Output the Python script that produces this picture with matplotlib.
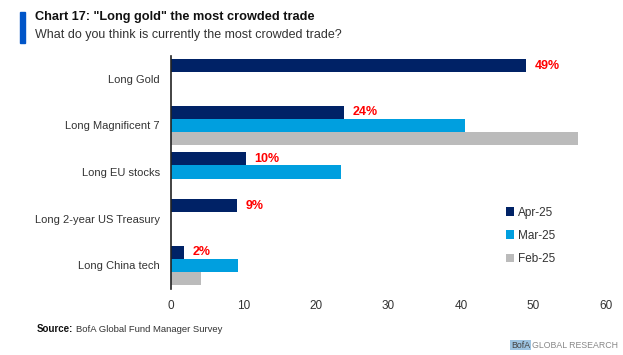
import numpy as np
import matplotlib
matplotlib.use("Agg")
import matplotlib.pyplot as plt
from matplotlib.patches import Rectangle

plt.rcParams['font.family'] = ['Liberation Sans', 'DejaVu Sans']

# data (% of fund managers)
trades = ['Long Gold', 'Long Magnificent 7', 'Long EU stocks',
          'Long 2-year US Treasury', 'Long China tech']
apr25 = [49, 23.9, 10.3, 9.1, 1.8]
mar25 = [0, 40.5, 23.4, 0, 9.3]
feb25 = [0, 56.2, 0, 0, 4.1]
series_names = ['Apr-25', 'Mar-25', 'Feb-25']
colors = ['#002266', '#009FDF', '#BBBBBB']
xticks = [0, 10, 20, 30, 40, 50, 60]

W, H = 623, 355
fig = plt.figure(figsize=(W / 100, H / 100), dpi=100)
ax = fig.add_axes([171 / W, 1 - 288.5 / H, 435 / W, 233 / H])

y = np.arange(len(trades))
h = 0.28
for i, (vals, name, c) in enumerate(zip([apr25, mar25, feb25], series_names, colors)):
    ax.barh(y + (i - 1) * h, vals, height=h, color=c, label=name)

# red labels for the latest month
for yi, v in zip(y, apr25):
    ax.text(v + 1.2, yi - h, f"{round(v)}%", color='#FF0000',
            fontsize=9, fontweight='bold', va='center', ha='left')

ax.set_ylim(len(trades) - 0.5, -0.5)
ax.set_xlim(0, 60)
ax.set_yticks(y)
ax.set_yticklabels(trades, fontsize=8, color='#333333')
ax.set_xticks(xticks)
ax.set_xticklabels([str(t) for t in xticks], fontsize=8.5, color='#333333')
ax.tick_params(axis='y', length=0, pad=8)
ax.tick_params(axis='x', length=0, pad=8)
for s in ['top', 'right', 'bottom']:
    ax.spines[s].set_visible(False)
ax.spines['left'].set_color('#222222')
ax.spines['left'].set_linewidth(1.2)

leg = ax.legend(loc='center left', bbox_to_anchor=(0.769, 0.226), frameon=False,
                fontsize=8.5, handlelength=0.75, handleheight=0.75,
                handletextpad=0.3, labelspacing=0.95, borderpad=0, borderaxespad=0)
for t in leg.get_texts():
    t.set_color('#333333')

# header
fig.patches.append(Rectangle((20 / W, 1 - 43 / H), 5 / W, 31 / H,
                             transform=fig.transFigure, color='#0055C8'))
fig.text(35 / W, 1 - 17 / H, 'Chart 17: "Long gold" the most crowded trade',
         fontsize=9.2, fontweight='bold', color='#111111', va='center')
fig.text(35 / W, 1 - 35 / H, 'What do you think is currently the most crowded trade?',
         fontsize=9, color='#333333', va='center')

# footer
r = fig.canvas.get_renderer()
src = fig.text(37 / W, 1 - 329 / H, 'Source:', fontsize=7, fontweight='bold',
               color='#111111', va='center')
bb = src.get_window_extent(r)
fig.text((bb.x1 + 3) / W, 1 - 329 / H, 'BofA Global Fund Manager Survey', fontsize=6.8,
         color='#333333', va='center')
gr = fig.text(618 / W, 1 - 345 / H, 'GLOBAL RESEARCH', fontsize=6.3, color='#888888',
              va='center', ha='right')
bb = gr.get_window_extent(r)
fig.text((bb.x0 - 2) / W, 1 - 345 / H, 'BofA', fontsize=6.3, color='#444444', va='center',
         ha='right', bbox=dict(facecolor='#9DC3E0', edgecolor='none', pad=0.6))

fig.savefig('out.png', dpi=100)
